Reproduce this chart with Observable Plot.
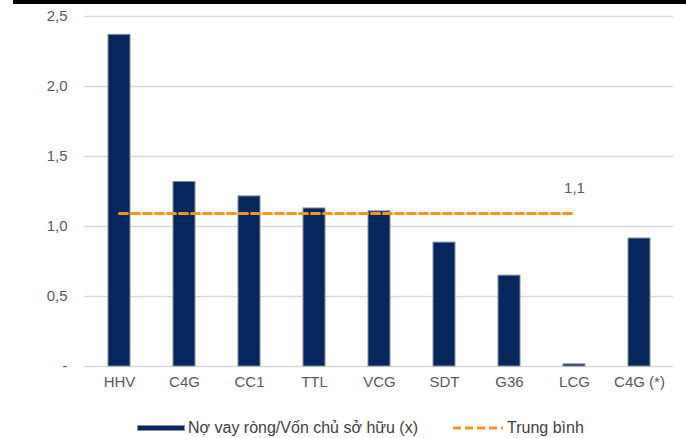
<!DOCTYPE html>
<html>
<head>
<meta charset="utf-8">
<script src="https://cdn.jsdelivr.net/npm/d3@7"></script>
<script src="https://cdn.jsdelivr.net/npm/@observablehq/plot@0.6"></script>
<style>
  html, body { margin: 0; padding: 0; background: #fff; }
  #wrap { position: relative; width: 686px; height: 438px; overflow: hidden; font-family: "Liberation Sans", Arial, sans-serif; }
  #topbar { position: absolute; left: 13px; top: 0; width: 673px; height: 4px; background: #000; z-index: 2; }
  #chart { position: absolute; left: 0; top: 0; }
  #legend { position: absolute; left: 0; top: 418px; width: 686px; height: 20px; font-size: 16px; color: #404040; }
  .li { position: absolute; top: 0; line-height: 20px; white-space: nowrap; }
  .sw { display: inline-block; vertical-align: middle; }
</style>
</head>
<body>
<div id="wrap">
  <div id="topbar"></div>
  <div id="chart"></div>
  <div id="legend">
    <div class="li" style="left:137px"><span class="sw" style="width:48px;height:6px;background:#06265e;border:1px solid #8a8f99;box-sizing:border-box;margin-right:3px;position:relative;top:-1px"></span>Nợ vay ròng/Vốn chủ sở hữu (x)</div>
    <div class="li" style="left:453px"><svg class="sw" width="50" height="6" style="margin-right:4px;position:relative;top:-1px"><line x1="0" y1="3" x2="50" y2="3" stroke="#f7941d" stroke-width="3" stroke-dasharray="8,4"/></svg>Trung bình</div>
  </div>
</div>
<script>
const categories = ["HHV", "C4G", "CC1", "TTL", "VCG", "SDT", "G36", "LCG", "C4G (*)"];
const values = [2.369, 1.318, 1.215, 1.129, 1.108, 0.885, 0.649, 0.015, 0.914];
const meanCategories = ["HHV", "C4G", "CC1", "TTL", "VCG", "SDT", "G36", "LCG"];
const meanValue = 1.093;
const meanLabel = "1,1";
const yTicks = [0, 0.5, 1.0, 1.5, 2.0, 2.5];
const yTickLabels = ["-", "0,5", "1,0", "1,5", "2,0", "2,5"];

const bars = categories.map((c, i) => ({category: c, value: values[i]}));
const mean = meanCategories.map(c => ({category: c, value: meanValue}));
const lastMean = [mean[mean.length - 1]];

const chart = Plot.plot({
  width: 686,
  height: 405,
  marginTop: 16,
  marginBottom: 39,
  marginLeft: 84,
  marginRight: 13,
  style: {fontFamily: "'Liberation Sans', Arial, sans-serif", fontSize: "15px", color: "#595959", background: "transparent"},
  x: {domain: categories, paddingInner: 0.664, paddingOuter: 0.332, label: null, tickSize: 0, tickPadding: 10},
  y: {domain: [0, 2.5], label: null},
  marks: [
    Plot.gridY(yTicks, {stroke: "#d9d9d9", strokeOpacity: 1, strokeWidth: 1.3}),
    Plot.axisY(yTicks, {tickFormat: (d) => yTickLabels[yTicks.indexOf(d)], tickSize: 0, tickPadding: 17, fontSize: 15, fill: "#595959"}),
    Plot.axisX({tickSize: 0, tickPadding: 10, fontSize: 15, fill: "#595959"}),
    Plot.barY(bars, {x: "category", y: "value", fill: "#06265e", stroke: "#8a8f99", strokeWidth: 1}),
    Plot.lineY(mean, {x: "category", y: "value", stroke: "#f7941d", strokeWidth: 3, strokeDasharray: "8,4"}),
    Plot.text(lastMean, {x: "category", y: "value", text: () => meanLabel, dy: -25, fontSize: 15, fill: "#595959"})
  ]
});
document.getElementById("chart").appendChild(chart);
</script>
</body>
</html>
